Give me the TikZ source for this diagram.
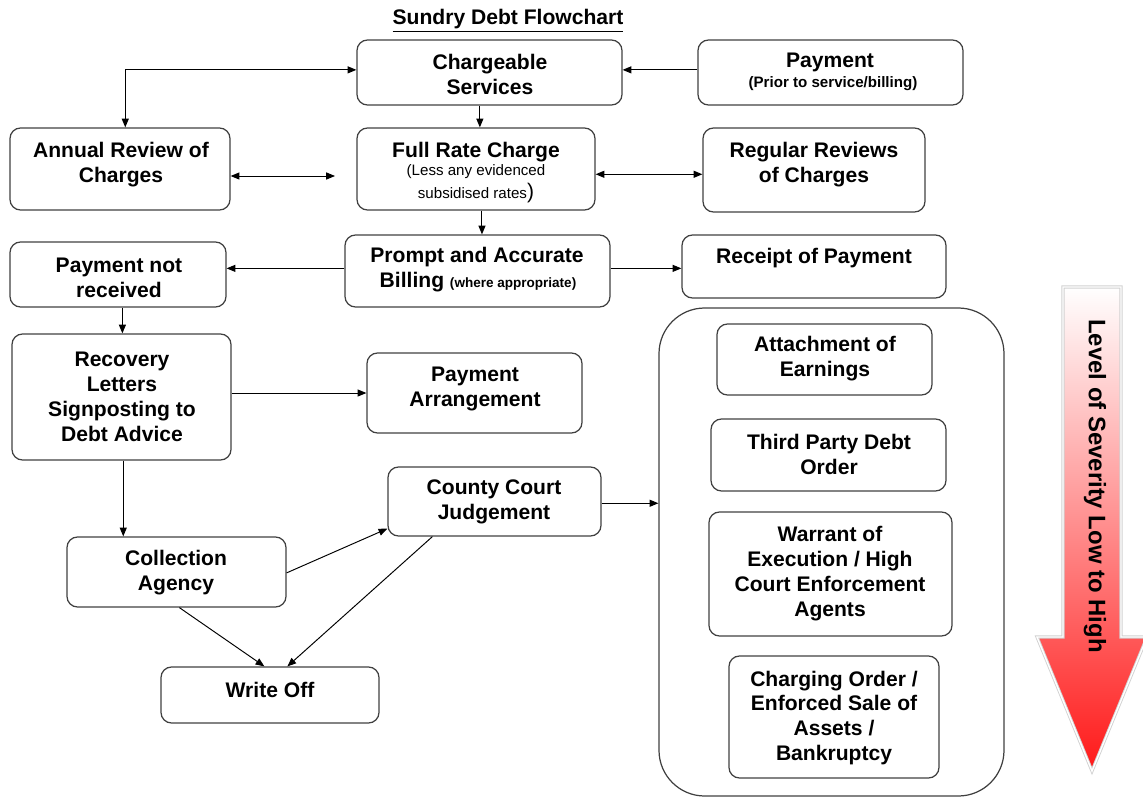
\documentclass[tikz,border=0pt]{standalone}
\usepackage{fontspec}
\setmainfont{Liberation Sans}
\usetikzlibrary{fit,calc,arrows.meta}
\tikzset{
  box/.style={draw=black!75, line width=0.7pt, rounded corners=6pt, inner sep=0pt},
  bigbox/.style={draw=black!75, line width=0.7pt, rounded corners=26pt, inner sep=0pt},
  txt/.style={font=\bfseries\fontsize{12}{14.2}\selectfont, align=center, inner sep=0pt},
  small/.style={font=\fontsize{8.6}{10}\selectfont, inner sep=0pt},
  smallb/.style={font=\bfseries\fontsize{8.6}{10}\selectfont, inner sep=0pt},
  tip/.tip={Triangle[length=5pt,width=4pt]},
  arr/.style={-tip, line width=0.55pt, black},
  darr/.style={tip-tip, line width=0.55pt, black},
}
\begin{document}
\begin{tikzpicture}[x=0.02cm,y=-0.02cm]
\useasboundingbox (0,0) rectangle (1143,798);
\clip (0,0) rectangle (1143,798);

% title
\node[txt] (title) at (508,21) {\underline{Sundry Debt Flowchart}};

% boxes
\node[box, fit={(357,40)(622,105)}] (cs) {};
\node[box, fit={(698,40)(963,105)}] (pay) {};
\node[box, fit={(10,128)(230,210)}] (ar) {};
\node[box, fit={(357,128)(595,210)}] (fr) {};
\node[box, fit={(703,128)(925,212)}] (rr) {};
\node[box, fit={(345,235)(610,307)}] (pb) {};
\node[box, fit={(10,242)(226,307)}] (pnr) {};
\node[box, fit={(682,235)(946,298)}] (rp) {};
\node[box, fit={(12,334)(231,460)}] (rl) {};
\node[box, fit={(367,353)(582,433)}] (pa) {};
\node[box, fit={(388,467)(601,536)}] (ccj) {};
\node[box, fit={(67,537)(286,607)}] (ca) {};
\node[box, fit={(161,667)(379,723)}] (wo) {};
\node[bigbox, fit={(659,308)(1004,796)}] (big) {};
\node[box, fit={(717,324)(932,395)}] (ae) {};
\node[box, fit={(711,419)(946,491)}] (tp) {};
\node[box, fit={(709,512)(952,636)}] (wa) {};
\node[box, fit={(729,656)(939,778)}] (co) {};

% texts
\node[txt] (t-cs) at (490,74) {Chargeable\\Services};
\node[txt] (t-pay) at (830,62) {Payment};
\node[smallb] (t-pay2) at (833,84) {(Prior to service/billing)};
\node[txt] (t-ar) at (121,165) {Annual Review of\\Charges};
\node[txt] (t-fr) at (476,152) {Full Rate Charge};
\node[small] (t-fr2) at (476,172) {(Less any evidenced};
\node[small] (t-fr3) at (476,193) {subsidised rates{\fontsize{12}{12}\selectfont)}};
\node[txt] (t-rr) at (814,165) {Regular Reviews\\of Charges};
\node[txt] (t-pb) at (477,257) {Prompt and Accurate};
\node[txt] (t-pb2) at (478,282) {Billing {\fontsize{7.7}{9}\selectfont(where appropriate)}};
\node[txt] (t-pnr) at (119,278) {Payment not\\received};
\node[txt] (t-rp) at (814,258) {Receipt of Payment};
\node[txt] (t-rl) at (122,397) {Recovery\\Letters\\Signposting to\\Debt Advice};
\node[txt] (t-pa) at (475,389) {Payment\\Arrangement};
\node[txt] (t-ccj) at (494,502) {County Court\\Judgement};
\node[txt] (t-ca) at (176,573) {Collection\\Agency};
\node[txt] (t-wo) at (270,690) {Write Off};
\node[txt] (t-ae) at (825,359) {Attachment of\\Earnings};
\node[txt] (t-tp) at (829,454) {Third Party Debt\\Order};
\node[txt] (t-wa) at (830,574) {Warrant of\\Execution / High\\Court Enforcement\\Agents};
\node[txt] (t-co) at (834,718) {Charging Order /\\Enforced Sale of\\Assets /\\Bankruptcy};

% connectors
\coordinate (afgap) at (335,176);
\draw[darr] ([xshift=3pt]ar.north) |- ([yshift=1.5pt]cs.west);
\draw[arr] ([xshift=2.2pt]cs.south -| fr.north) -- ([xshift=2.2pt]fr.north);
\draw[arr] ([yshift=1.5pt]pay.west) -- ([yshift=1.5pt]cs.east);
\draw[darr] (ar.east |- afgap) -- (afgap);
\draw[darr] ([yshift=-3pt]fr.east) -- ([yshift=-3pt]fr.east -| rr.west);
\draw[arr] ([xshift=3.4pt]fr.south) -- ([xshift=3.4pt]fr.south |- pb.north);
\draw[arr] ([yshift=1.5pt]pb.west) -- ([yshift=1.5pt]pb.west -| pnr.east);
\draw[arr] ([yshift=1.5pt]pb.east) -- ([yshift=1.5pt]pb.east -| rp.west);
\draw[arr] ([xshift=2.5pt]pnr.south) -- ([xshift=2.5pt]pnr.south |- rl.north);
\draw[arr] (rl.east |- pa.west) -- (pa.west);
\draw[arr] ([xshift=1pt]rl.south) -- ([xshift=1pt]rl.south |- ca.north);
\draw[arr] ([yshift=-0.5pt]ca.east) -- ($(ccj.south west)+(0,-8)$);
\draw[arr] ($(ccj.south west)+(45,0)$) -- ($(wo.north west)+(127,0)$);
\draw[arr] ($(ca.south west)+(113,0)$) -- ($(wo.north west)+(104,0)$);
\draw[arr] ([yshift=-1pt]ccj.east) -- ([yshift=-1pt]ccj.east -| big.west);

% severity arrow
\path[top color=white, bottom color={rgb,255:red,255;green,25;blue,25},
      draw=black!18, double=white, double distance=0.8pt, line width=0.5pt]
  (1063,287) -- (1121,287) -- (1121,637) -- (1147,637) -- (1092,771)
  -- (1037,637) -- (1063,637) -- cycle;
\node[font=\bfseries\fontsize{13.6}{14}\selectfont, rotate=-90, inner sep=0pt]
  (sev) at (1095,486) {Level of Severity Low to High};
\end{tikzpicture}
\end{document}
